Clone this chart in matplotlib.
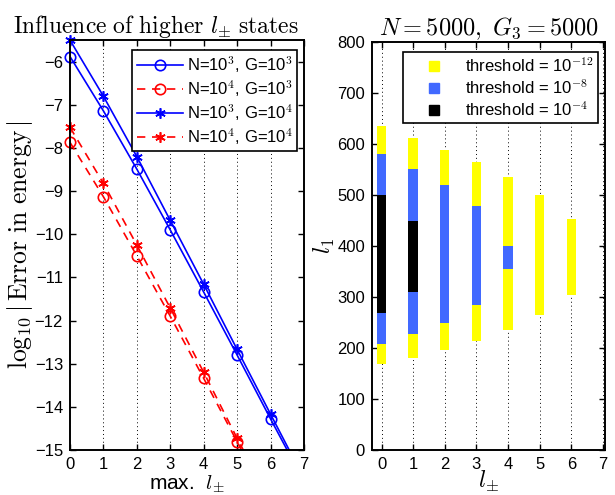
import numpy as np
import matplotlib.pyplot as plt
from matplotlib.lines import Line2D

plt.rcParams.update({
    'font.family': 'sans-serif',
    'font.sans-serif': ['Liberation Sans', 'DejaVu Sans'],
    'mathtext.fontset': 'cm',
    'font.size': 12,
    'axes.linewidth': 1.4,
    'xtick.direction': 'in',
    'ytick.direction': 'in',
    'xtick.top': True,
    'ytick.right': True,
    'xtick.major.width': 1.0,
    'ytick.major.width': 1.0,
    'xtick.major.size': 4,
    'ytick.major.size': 4,
    'xtick.major.pad': 5,
    'ytick.major.pad': 5,
})

# ---- left panel data: log10 |error| vs max l_pm ----
lmax_a = [0, 1, 2, 3, 4, 5, 6, 7]
err_n3_g3 = [-5.88, -7.14, -8.49, -9.90, -11.34, -12.80, -14.28, -15.73]
err_n3_g4 = [-5.50, -6.80, -8.20, -9.68, -11.16, -12.67, -14.17, -15.66]
lmax_b = [0, 1, 2, 3, 4, 5, 6]
err_n4_g3 = [-7.87, -9.13, -10.50, -11.90, -13.34, -14.81, -16.25]
err_n4_g4 = [-7.52, -8.82, -10.25, -11.71, -13.20, -14.73, -16.20]

# ---- right panel data: l_1 ranges kept for each threshold ----
lpm = [0, 1, 2, 3, 4, 5, 6]
yel_lo = [168, 180, 197, 214, 236, 264, 305]
yel_hi = [635, 612, 588, 565, 535, 500, 453]
blu_x = [0, 1, 2, 3, 4]
blu_lo = [207, 227, 250, 284, 355]
blu_hi = [580, 552, 520, 479, 400]
blk_x = [0, 1]
blk_lo = [268, 310]
blk_hi = [500, 450]

C_BLUE = '#0000FF'
C_RED = '#FF0000'
C_YEL = '#FFFF00'
C_BAR_BLUE = '#4169FF'
STAR = (6, 2, 0)
YMIN, YMAX = -15, -5.5

fig = plt.figure(figsize=(6.15, 4.95), dpi=100)
ax1 = fig.add_axes([0.1138, 0.0909, 0.3805, 0.828])
ax2 = fig.add_axes([0.6049, 0.0909, 0.379, 0.824])

series = [
    (lmax_a, err_n3_g3, C_BLUE, '-', 'o', r'N=10$^3$, G=10$^3$'),
    (lmax_b, err_n4_g3, C_RED, '--', 'o', r'N=10$^4$, G=10$^3$'),
    (lmax_a, err_n3_g4, C_BLUE, '-', STAR, r'N=10$^3$, G=10$^4$'),
    (lmax_b, err_n4_g4, C_RED, '--', STAR, r'N=10$^4$, G=10$^4$'),
]
for xs, ys, c, ls, mk, lab in series:
    kw = dict(dashes=(5, 4)) if ls == '--' else {}
    ax1.plot(xs, ys, color=c, lw=1.2, ls=ls, **kw)
    xa, ya = np.array(xs), np.array(ys)
    keep = ya >= YMIN - 0.05
    ax1.plot(xa[keep], ya[keep], ls='none', marker=mk, ms=7.5, mfc='none',
             mec=c, mew=1.2, clip_on=False)
    # legend proxy
    ax1.plot([], [], color=c, lw=1.2, ls=ls, marker=mk, ms=7.5, mfc='none',
             mec=c, mew=1.2, label=lab, **kw)
ax1.set_xlim(0, 7)
ax1.set_ylim(YMIN, YMAX)
ax1.set_xticks(range(8))
ax1.set_yticks(range(-15, -5))
ax1.set_yticklabels([f'\u2212{abs(v)}' for v in range(-15, -5)])
for xv in range(1, 7):
    ax1.axvline(xv, color='k', ls=(0, (1, 3)), lw=0.7, zorder=0)
ax1.set_title(r'$\mathrm{Influence\ of\ higher\ }l_{\pm}\mathrm{\ states}$', fontsize=17,
              pad=5, x=0.368)
ax1.set_xlabel(r'max.  $l_{\pm}$', fontsize=15, labelpad=1)
ax1.set_ylabel(r'$\log_{10}|\,\mathrm{Error\ in\ energy}\,|$', fontsize=18.5, labelpad=0)
leg1 = ax1.legend(loc='upper right', bbox_to_anchor=(0.985, 0.985), fontsize=12,
                  frameon=True, fancybox=False, edgecolor='k', framealpha=1,
                  handlelength=2.8, handletextpad=0.2, borderpad=0.25, labelspacing=0.2,
                  borderaxespad=0.2)
leg1.get_frame().set_linewidth(1.2)

# right panel bars
ax2.bar(lpm, np.array(yel_hi) - np.array(yel_lo), bottom=yel_lo, width=0.3,
        color=C_YEL, zorder=2)
ax2.bar(blu_x, np.array(blu_hi) - np.array(blu_lo), bottom=blu_lo, width=0.3,
        color=C_BAR_BLUE, zorder=3)
ax2.bar(blk_x, np.array(blk_hi) - np.array(blk_lo), bottom=blk_lo, width=0.3,
        color='k', zorder=4)
for xv in range(0, 8):
    ax2.axvline(xv, color='k', ls=(0, (1, 3)), lw=0.7, zorder=0)
ax2.set_xlim(-0.3, 7.07)
ax2.set_ylim(0, 800)
ax2.set_xticks(range(8))
ax2.set_yticks(range(0, 801, 100))
ax2.set_title(r'$N=5000,\ G_3=5000$', fontsize=17.5, pad=5)
ax2.set_xlabel(r'$l_{\pm}$', fontsize=17, labelpad=-2)
ax2.set_ylabel(r'$l_1$', fontsize=17, labelpad=0)
handles = [Line2D([], [], ls='none', marker='s', ms=7, mfc=c, mec=c)
           for c in (C_YEL, C_BAR_BLUE, 'k')]
labels = [r'threshold = 10$^{-12}$', r'threshold = 10$^{-8}$', r'threshold = 10$^{-4}$']
leg2 = ax2.legend(handles, labels, loc='upper right', bbox_to_anchor=(0.985, 0.985),
                  fontsize=12, frameon=True, fancybox=False, edgecolor='k', framealpha=1,
                  handlelength=3.2, handletextpad=0.3, borderpad=0.25, labelspacing=0.2,
                  borderaxespad=0.2)
leg2.get_frame().set_linewidth(1.2)

plt.savefig('out.png', dpi=100)
